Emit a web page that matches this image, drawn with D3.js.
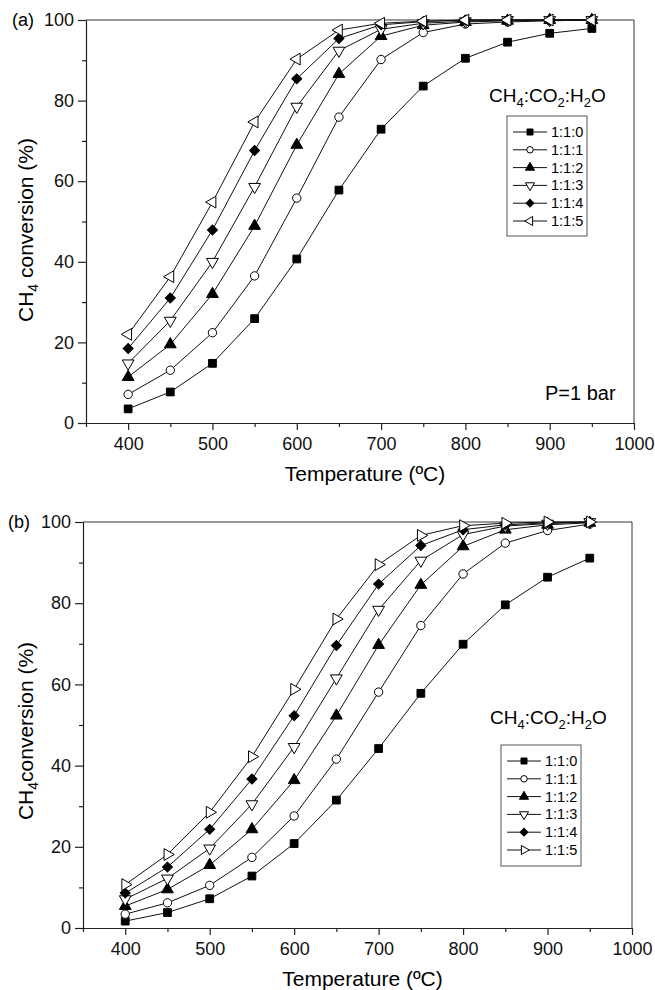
<!DOCTYPE html>
<html>
<head>
<meta charset="utf-8">
<script src="https://cdn.jsdelivr.net/npm/d3@7"></script>
<style>
  body { margin: 0; background: #fff; }
  svg { font-family: "Liberation Sans", Arial, sans-serif; }
</style>
</head>
<body>
<svg id="chart" width="655" height="990"></svg>
<script>
// temperatures (ºC)
const temps = [400, 450, 500, 550, 600, 650, 700, 750, 800, 850, 900, 950];
const ratios = ["1:1:0", "1:1:1", "1:1:2", "1:1:3", "1:1:4", "1:1:5"];

// (a) P = 1 bar
const a_110 = [3.5, 7.7, 14.8, 25.9, 40.7, 57.8, 72.9, 83.6, 90.5, 94.5, 96.7, 97.9];
const a_111 = [7.1, 13.1, 22.4, 36.5, 55.8, 75.9, 90.2, 96.9, 99.0, 99.5, 99.8, 100];
const a_112 = [11.4, 19.5, 32.0, 48.9, 69.0, 86.6, 96.0, 98.7, 99.5, 99.8, 100, 100];
const a_113 = [14.8, 25.4, 40.0, 58.6, 78.5, 92.4, 97.7, 99.2, 99.7, 100, 100, 100];
const a_114 = [18.5, 31.0, 47.9, 67.6, 85.4, 95.4, 98.8, 99.6, 100, 100, 100, 100];
const a_115 = [22.0, 36.3, 54.8, 74.7, 90.3, 97.5, 99.2, 99.7, 100, 100, 100, 100];

// (b)
const b_110 = [1.7, 3.8, 7.2, 12.8, 20.8, 31.5, 44.2, 57.8, 69.9, 79.6, 86.4, 91.1];
const b_111 = [3.4, 6.2, 10.5, 17.4, 27.6, 41.6, 58.1, 74.5, 87.2, 94.8, 97.9, 99.5];
const b_112 = [5.4, 9.5, 15.5, 24.3, 36.4, 52.3, 69.7, 84.5, 94.0, 98.1, 99.3, 99.8];
const b_113 = [7.1, 12.2, 19.6, 30.5, 44.6, 61.5, 78.4, 90.5, 96.9, 99.0, 99.6, 100];
const b_114 = [8.6, 15.0, 24.3, 36.7, 52.3, 69.6, 84.7, 94.2, 98.1, 99.3, 99.8, 100];
const b_115 = [10.7, 18.1, 28.5, 42.2, 58.8, 76.1, 89.5, 96.7, 99.1, 99.7, 100, 100];

const yMajor = [0, 20, 40, 60, 80, 100];
const yMinor = [10, 30, 50, 70, 90];
const xMajor = [400, 500, 600, 700, 800, 900, 1000];
const xMinor = [350, 450, 550, 650, 750, 850, 950];

const svg = d3.select("#chart");

// marker styles: symbol, fill, rotation
function markerStyles(lastDir) {
  return [
    { sym: d3.symbolSquare, size: 60, fill: "#000", rot: 0 },
    { sym: d3.symbolCircle, size: 55, fill: "#fff", rot: 0 },
    { sym: d3.symbolTriangle, size: 60, fill: "#000", rot: 0 },
    { sym: d3.symbolTriangle, size: 60, fill: "#fff", rot: 180 },
    { sym: d3.symbolSquare, size: 50, fill: "#000", rot: 45 },
    { sym: d3.symbolTriangle, size: 60, fill: "#fff", rot: lastDir }
  ];
}

function subText(sel, parts, subSize) {
  // parts: [text, isSub]
  parts.forEach(([t, sub], i) => {
    const ts = sel.append("tspan").text(t);
    if (sub) ts.attr("font-size", subSize).attr("dy", 5);
    else if (i > 0 && parts[i - 1][1]) ts.attr("dy", -5);
  });
}

function drawPanel(cfg) {
  const x = d3.scaleLinear().domain([350, 1000]).range([cfg.left, cfg.right]);
  const y = d3.scaleLinear().domain([0, 100]).range([cfg.bottom, cfg.top]);
  const g = svg.append("g");
  const styles = markerStyles(cfg.lastDir);

  // frame
  g.append("line").attr("x1", cfg.left).attr("x2", cfg.right)
    .attr("y1", cfg.top).attr("y2", cfg.top).attr("stroke", "#333");
  g.append("line").attr("x1", cfg.right).attr("x2", cfg.right)
    .attr("y1", cfg.top).attr("y2", cfg.bottom).attr("stroke", "#333");

  // axes
  g.append("g").attr("transform", `translate(${cfg.left},0)`)
    .call(d3.axisLeft(y).tickValues(yMajor).tickSize(8).tickPadding(4).tickSizeOuter(0));
  g.append("g").attr("transform", `translate(${cfg.left},0)`)
    .call(d3.axisLeft(y).tickValues(yMinor).tickSize(4).tickFormat("").tickSizeOuter(0))
    .select(".domain").remove();
  g.append("g").attr("transform", `translate(0,${cfg.bottom})`)
    .call(d3.axisBottom(x).tickValues(xMajor).tickFormat(d3.format("d"))
      .tickSize(7).tickPadding(7).tickSizeOuter(0));
  g.append("g").attr("transform", `translate(0,${cfg.bottom})`)
    .call(d3.axisBottom(x).tickValues(xMinor).tickSize(4).tickFormat("").tickSizeOuter(0))
    .select(".domain").remove();
  g.selectAll(".tick line, .domain").attr("stroke", "#222").attr("stroke-width", 1.2);
  g.selectAll(".tick text").attr("fill", "#111")
    .style("font-size", "18px")
    .style("font-family", "'Liberation Sans', Arial, sans-serif");

  // series
  const line = d3.line().x((d) => x(d[0])).y((d) => y(d[1]));
  cfg.series.forEach((vals) => {
    const pts = temps.map((t, j) => [t, vals[j]]);
    g.append("path").datum(pts).attr("d", line)
      .attr("fill", "none").attr("stroke", "#111").attr("stroke-width", 1);
  });
  cfg.series.forEach((vals, i) => {
    const st = styles[i];
    const sym = d3.symbol().type(st.sym).size(st.size);
    g.selectAll(null).data(temps.map((t, j) => [t, vals[j]])).enter()
      .append("path")
      .attr("d", sym)
      .attr("transform", (d) => `translate(${x(d[0])},${y(d[1])}) rotate(${st.rot})`)
      .attr("fill", st.fill).attr("stroke", "#000").attr("stroke-width", 1);
  });

  // panel tag
  g.append("text").attr("x", cfg.tagX).attr("y", cfg.top + 6)
    .attr("font-size", 18).text(cfg.tag);

  // axis titles
  g.append("text").attr("x", (cfg.left + cfg.right) / 2 + 5).attr("y", cfg.bottom + 58)
    .attr("text-anchor", "middle").attr("font-size", 21).text("Temperature (ºC)");
  const yt = g.append("text")
    .attr("transform", `translate(33,${cfg.yLabelY}) rotate(-90)`)
    .attr("text-anchor", "middle").attr("font-size", 21);
  subText(yt, [["CH", false], ["4", true], [cfg.yLabelRest, false]], 14);

  // legend title
  const lt = g.append("text").attr("x", cfg.legTitleX).attr("y", cfg.legTitleY)
    .attr("font-size", 19);
  subText(lt, [["CH", false], ["4", true], [":CO", false], ["2", true],
    [":H", false], ["2", true], ["O", false]], 13);

  // legend box
  const lb = cfg.legBox;
  g.append("rect").attr("x", lb.x).attr("y", lb.y).attr("width", lb.w).attr("height", lb.h)
    .attr("fill", "#fff").attr("stroke", "#555").attr("stroke-width", 1);
  ratios.forEach((r, i) => {
    const ry = lb.y + 16 + i * 17.8;
    const lx = lb.x + 6;
    g.append("line").attr("x1", lx).attr("x2", lx + 34).attr("y1", ry).attr("y2", ry)
      .attr("stroke", "#111");
    const st = styles[i];
    g.append("path").attr("d", d3.symbol().type(st.sym).size(st.size * 0.6))
      .attr("transform", `translate(${lx + 17},${ry}) rotate(${st.rot})`)
      .attr("fill", st.fill).attr("stroke", "#000");
    g.append("text").attr("x", lx + 38).attr("y", ry + 5).attr("font-size", 14.5).text(r);
  });

  if (cfg.note) {
    g.append("text").attr("x", cfg.note.x).attr("y", cfg.note.y)
      .attr("font-size", 20).text(cfg.note.text);
  }
}

drawPanel({
  left: 86, right: 634, top: 20, bottom: 423,
  series: [a_110, a_111, a_112, a_113, a_114, a_115],
  lastDir: -90, tag: "(a)", tagX: 12, yLabelRest: " conversion (%)", yLabelY: 230,
  legTitleX: 489, legTitleY: 102,
  legBox: { x: 507, y: 116, w: 80, h: 120 },
  note: { x: 545, y: 400, text: "P=1 bar" }
});

drawPanel({
  left: 83, right: 632, top: 522, bottom: 928,
  series: [b_110, b_111, b_112, b_113, b_114, b_115],
  lastDir: 90, tag: "(b)", tagX: 8, yLabelRest: "conversion (%)", yLabelY: 731,
  legTitleX: 490, legTitleY: 724,
  legBox: { x: 501, y: 745, w: 80, h: 121 }
});
</script>
</body>
</html>
